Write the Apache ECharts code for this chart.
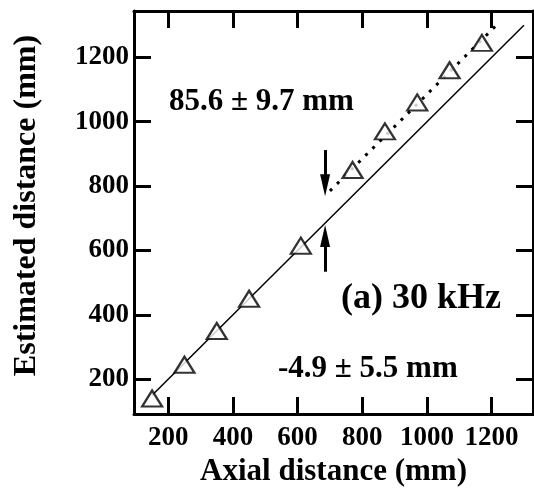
<!DOCTYPE html>
<html>
<head>
<meta charset="utf-8">
<script src="https://cdn.jsdelivr.net/npm/echarts@6/dist/echarts.min.js"></script>
<style>html,body{margin:0;padding:0;background:#fff}#c{width:534px;height:503px}</style>
</head>
<body>
<div id="c"></div>
<script>
// Data
const axialDistance = [150, 250, 350, 450, 610, 770, 870, 970, 1070, 1170];
const estimatedDistance = [140, 245, 350, 450, 615, 850, 970, 1060, 1160, 1245];
const solidLineX = [150, 1300];
const solidLineY = [150, 1300];
const dottedLineX = [700, 1215];
const dottedLineY = [785, 1300];
const arrowDownX = [685, 685];
const arrowDownY = [912, 803];
const arrowUpX = [685, 685];
const arrowUpY = [534, 645];
const xTicks = [200, 400, 600, 800, 1000, 1200];
const yTicks = [200, 400, 600, 800, 1000, 1200];
const xRange = [94, 1328];
const yRange = [92, 1344];
const annotations = ['85.6 \u00b1 9.7 mm', '(a) 30 kHz', '-4.9 \u00b1 5.5 mm'];

const FONT = '"Liberation Serif", "Times New Roman", serif';
const zip = (a, b) => a.map((v, i) => [v, b[i]]);
const plain = v => String(v);

const chart = echarts.init(document.getElementById('c'));
const axisCommon = {
  type: 'value',
  axisLine: { show: true, onZero: false, lineStyle: { color: '#000', width: 3 } },
  axisTick: { show: true, inside: true, length: 17, lineStyle: { color: '#000', width: 3 } },
  splitLine: { show: false }
};
chart.setOption({
  animation: false,
  backgroundColor: '#fff',
  grid: { left: 134, right: 1, top: 11, bottom: 89 },
  xAxis: [
    Object.assign({}, axisCommon, {
      position: 'bottom', min: xRange[0], max: xRange[1],
      axisTick: Object.assign({}, axisCommon.axisTick, { customValues: xTicks }),
      axisLabel: { customValues: xTicks, formatter: plain, margin: 11, color: '#000', fontFamily: FONT, fontWeight: 'bold', fontSize: 27 },
      name: 'Axial distance (mm)', nameLocation: 'middle', nameGap: 42,
      nameTextStyle: { color: '#000', fontFamily: FONT, fontWeight: 'bold', fontSize: 31 }
    }),
    Object.assign({}, axisCommon, {
      position: 'top', min: xRange[0], max: xRange[1],
      axisTick: Object.assign({}, axisCommon.axisTick, { customValues: xTicks }),
      axisLabel: { show: false }
    })
  ],
  yAxis: [
    Object.assign({}, axisCommon, {
      position: 'left', min: yRange[0], max: yRange[1],
      axisTick: Object.assign({}, axisCommon.axisTick, { customValues: yTicks }),
      axisLabel: { customValues: yTicks, formatter: plain, margin: 5, color: '#000', fontFamily: FONT, fontWeight: 'bold', fontSize: 27 },
      name: 'Estimated distance (mm)', nameLocation: 'middle', nameGap: 91, nameRotate: 90,
      nameTextStyle: { color: '#000', fontFamily: FONT, fontWeight: 'bold', fontSize: 32, padding: [0, 0, 0, 14] }
    }),
    Object.assign({}, axisCommon, {
      position: 'right', min: yRange[0], max: yRange[1],
      axisTick: Object.assign({}, axisCommon.axisTick, { customValues: yTicks }),
      axisLabel: { show: false }
    })
  ],
  series: [
    {
      type: 'line', data: zip(solidLineX, solidLineY), showSymbol: false, silent: true,
      lineStyle: { color: '#000', width: 1.5 }, z: 2
    },
    {
      type: 'line', data: zip(dottedLineX, dottedLineY), showSymbol: false, silent: true,
      lineStyle: { color: '#000', width: 3, type: [3, 7] }, z: 2
    },
    {
      type: 'line', data: [], silent: true,
      markLine: {
        silent: true, symbol: ['none', 'triangle'], symbolSize: [10, 22],
        label: { show: false },
        lineStyle: { color: '#000', width: 3, type: 'solid' },
        data: [
          [{ coord: [arrowDownX[0], arrowDownY[0]] }, { coord: [arrowDownX[1], arrowDownY[1]] }],
          [{ coord: [arrowUpX[0], arrowUpY[0]] }, { coord: [arrowUpX[1], arrowUpY[1]] }]
        ]
      }, z: 3
    },
    {
      type: 'scatter', data: zip(axialDistance, estimatedDistance),
      symbol: 'triangle', symbolSize: [20, 16],
      itemStyle: { color: '#fff', borderColor: '#000', borderWidth: 2.2 }, z: 5
    }
  ],
  graphic: [
    { type: 'text', left: 169, top: 86, style: { text: annotations[0], font: 'bold 31px ' + FONT, fill: '#000' } },
    { type: 'text', left: 341, top: 281, style: { text: annotations[1], font: 'bold 36px ' + FONT, fill: '#000' } },
    { type: 'text', left: 278, top: 353, style: { text: annotations[2], font: 'bold 31px ' + FONT, fill: '#000' } }
  ]
});
</script>
</body>
</html>
